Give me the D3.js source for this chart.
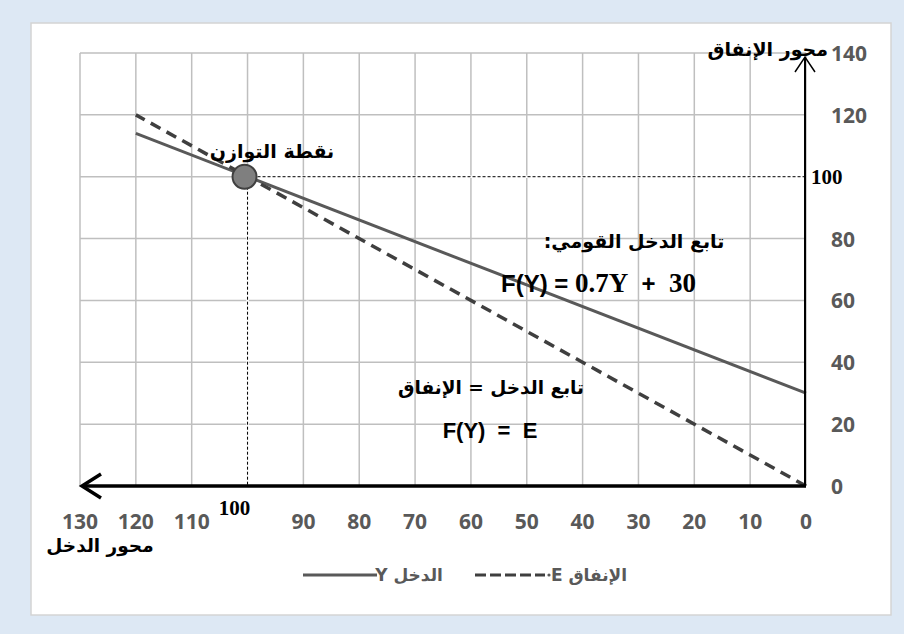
<!DOCTYPE html>
<html>
<head>
<meta charset="utf-8">
<script src="https://cdn.jsdelivr.net/npm/d3@7"></script>
<style>
  html, body { margin: 0; padding: 0; background: #dde8f4; }
  svg { display: block; }
</style>
</head>
<body>
<svg id="chart" width="904" height="634"></svg>
<script>
// ---- data ----
const xTicks = [0, 10, 20, 30, 40, 50, 60, 70, 80, 90, 100, 110, 120, 130];
const yTicks = [0, 20, 40, 60, 80, 100, 120, 140];
const incomeX = [0, 120];          // Y (income) range drawn
const incomeFnY = [30, 114];       // F(Y) = 0.7Y + 30
const spendingY = [0, 120];        // F(Y) = E (45° line)
const equilibrium = [100, 100];
const legendLabels = ["الدخل Y", "الإنفاق E"];

const svg = d3.select("#chart");
const grey = "#595959";

// panel
svg.append("rect").attr("x", 0).attr("y", 0).attr("width", 904).attr("height", 634).attr("fill", "#dde8f4");
svg.append("rect").attr("x", 31).attr("y", 23).attr("width", 860).attr("height", 592)
  .attr("fill", "#ffffff").attr("stroke", "#d4d4d4").attr("stroke-width", 1.5);

const x = d3.scaleLinear().domain([0, 130]).range([806, 80]);
const y = d3.scaleLinear().domain([0, 140]).range([486, 53]);

// grid
const grid = svg.append("g").attr("stroke", "#bfbfbf").attr("stroke-width", 1.5);
grid.selectAll("line.v").data(xTicks).join("line")
  .attr("x1", d => x(d)).attr("x2", d => x(d)).attr("y1", y(140)).attr("y2", y(0));
grid.selectAll("line.h").data(yTicks).join("line")
  .attr("y1", d => y(d)).attr("y2", d => y(d)).attr("x1", x(130)).attr("x2", x(0));

// lines
const pts = (xs, ys) => xs.map((v, i) => [x(v), y(ys[i])]);
const line = d3.line();
svg.append("path").attr("d", line(pts(incomeX, incomeFnY)))
  .attr("fill", "none").attr("stroke", grey).attr("stroke-width", 3);
svg.append("path").attr("d", line(pts(incomeX, spendingY)))
  .attr("fill", "none").attr("stroke", "#3f3f3f").attr("stroke-width", 3.5)
  .attr("stroke-dasharray", "11,7");

// equilibrium guides (white underlay hides gridline)
const ex = x(equilibrium[0]), ey = y(equilibrium[1]);
const guides = [[ex, ey, x(0), ey], [ex, ey, ex, y(0)]];
guides.forEach(g => {
  svg.append("line").attr("x1", g[0]).attr("y1", g[1]).attr("x2", g[2]).attr("y2", g[3])
    .attr("stroke", "#fff").attr("stroke-width", 2.5);
  svg.append("line").attr("x1", g[0]).attr("y1", g[1]).attr("x2", g[2]).attr("y2", g[3])
    .attr("stroke", "#000").attr("stroke-width", 1).attr("stroke-dasharray", "3,2");
});

// axes
svg.append("line").attr("x1", x(0)).attr("x2", x(130) + 2).attr("y1", y(0)).attr("y2", y(0))
  .attr("stroke", "#000").attr("stroke-width", 3.5);
svg.append("path").attr("d", `M${x(130) + 21},${y(0) - 12} L${x(130) + 2},${y(0)} L${x(130) + 21},${y(0) + 12}`)
  .attr("fill", "none").attr("stroke", "#000").attr("stroke-width", 3.5);
svg.append("line").attr("x1", x(0) - 1).attr("x2", x(0) - 1).attr("y1", y(0)).attr("y2", y(140) + 4)
  .attr("stroke", "#000").attr("stroke-width", 2);
svg.append("path").attr("d", `M${x(0) - 11},${y(140) + 19} L${x(0) - 1},${y(140) + 4} L${x(0) + 9},${y(140) + 19}`)
  .attr("fill", "none").attr("stroke", "#000").attr("stroke-width", 1.5);

// equilibrium point
svg.append("circle").attr("cx", ex - 3).attr("cy", ey).attr("r", 12)
  .attr("fill", "#7f7f7f").attr("stroke", "#404040").attr("stroke-width", 2);

// tick labels
const tickFont = "'Open Sans', sans-serif";
svg.append("g").selectAll("text").data(xTicks.filter(d => d !== 100)).join("text")
  .attr("x", d => x(d)).attr("y", 529).attr("text-anchor", "middle")
  .attr("font-family", tickFont).attr("font-weight", 700).attr("font-size", 21)
  .attr("fill", grey).text(d => d);
svg.append("g").selectAll("text").data(yTicks.filter(d => d !== 100)).join("text")
  .attr("x", 831).attr("y", d => y(d) + 8).attr("text-anchor", "start")
  .attr("font-family", tickFont).attr("font-weight", 700).attr("font-size", 21)
  .attr("fill", grey).text(d => d);

// special "100" labels
const serif = "'Liberation Serif', 'Times New Roman', serif";
svg.append("text").attr("x", x(100) - 13).attr("y", 515).attr("text-anchor", "middle")
  .attr("font-family", serif).attr("font-weight", "bold").attr("font-size", 21).text("100");
svg.append("text").attr("x", 811).attr("y", y(100) + 7).attr("text-anchor", "start")
  .attr("font-family", serif).attr("font-weight", "bold").attr("font-size", 21).text("100");

// Arabic annotations
const ar = "'DejaVu Sans', sans-serif";
function arText(txt, cx, by, size, fill) {
  return svg.append("text").attr("x", cx).attr("y", by).attr("text-anchor", "middle")
    .attr("direction", "rtl").attr("font-family", ar).attr("font-weight", "bold")
    .attr("font-size", size).attr("fill", fill || "#000").text(txt);
}
const yTitle = arText("محور الإنفاق", 773, 56, 19);
const w = yTitle.node().getComputedTextLength();
yTitle.attr("x", 828 - w / 2);
arText("محور الدخل", 100, 552, 18.5);
arText("نقطة التوازن", 272, 158, 19);
arText("تابع الدخل القومي:", 634, 248, 19);
arText("تابع الدخل = الإنفاق", 491, 394, 18.5);

// formulas
const sans = "'Liberation Sans', Arial, sans-serif";
const f1 = svg.append("text").attr("x", 501).attr("y", 292).attr("font-weight", "bold").attr("font-size", 24)
  .attr("xml:space", "preserve").style("white-space", "pre");
f1.append("tspan").attr("font-family", sans).text("F(Y) = ");
f1.append("tspan").attr("font-family", serif).attr("font-size", 27).text("0.7Y");
f1.append("tspan").attr("font-family", sans).text("  +  ");
f1.append("tspan").attr("font-family", serif).attr("font-size", 27).text("30");
svg.append("text").attr("x", 490).attr("y", 438).attr("text-anchor", "middle")
  .attr("xml:space", "preserve").style("white-space", "pre")
  .attr("font-family", sans).attr("font-weight", "bold").attr("font-size", 22).text("F(Y)  =  E");

// legend
const lg = svg.append("g");
lg.append("line").attr("x1", 303).attr("x2", 377).attr("y1", 575).attr("y2", 575)
  .attr("stroke", grey).attr("stroke-width", 3);
arText(legendLabels[0], 409, 581, 17, grey);
lg.append("line").attr("x1", 475).attr("x2", 545).attr("y1", 575).attr("y2", 575)
  .attr("stroke", "#3f3f3f").attr("stroke-width", 3).attr("stroke-dasharray", "11,4");
lg.append("circle").attr("cx", 549).attr("cy", 575).attr("r", 1.6).attr("fill", grey);
arText(legendLabels[1], 589, 581, 17, grey);
</script>
</body>
</html>
